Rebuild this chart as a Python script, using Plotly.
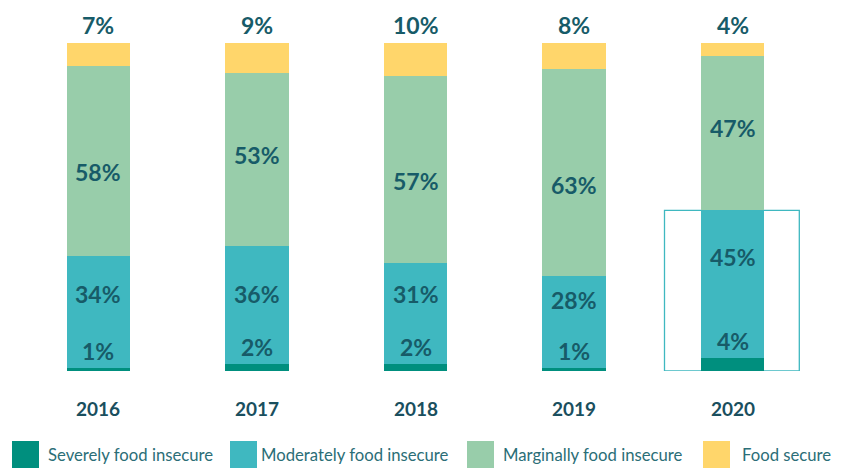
import plotly.graph_objects as go

years = ["2016", "2017", "2018", "2019", "2020"]
severe = [1, 2, 2, 1, 4]
moderate = [34, 36, 31, 28, 45]
marginal = [58, 53, 57, 63, 47]
secure = [7, 9, 10, 8, 4]

series_names = ["Severely food insecure", "Moderately food insecure",
                "Marginally food insecure", "Food secure"]
colors = ["#008F7E", "#3FB8C0", "#98CDAA", "#FFD66B"]

# label placement (style only, in axis units)
moderate_label_y = [23.5, 23.5, 23.5, 21.6, 34.8]
marginal_label_y = [60.7, 65.9, 57.9, 56.7, 74.1]

label_color = "#175B68"
label_font = dict(family="Lato, 'Open Sans', sans-serif", size=23, color=label_color)

fig = go.Figure()
for name, vals, col in zip(series_names, [severe, moderate, marginal, secure], colors):
    fig.add_trace(go.Bar(x=years, y=vals, name=name, marker=dict(color=col, line=dict(width=0)),
                         width=0.4, showlegend=False, hoverinfo="skip"))

ann = []
for i, yr in enumerate(years):
    common = dict(xref="x", yref="y", x=i, showarrow=False, yanchor="middle", xanchor="center")
    ann.append(dict(common, y=severe[i], yshift=17, text=f"<b>{severe[i]}%</b>", font=label_font))
    ann.append(dict(common, y=moderate_label_y[i], text=f"<b>{moderate[i]}%</b>", font=label_font))
    ann.append(dict(common, y=marginal_label_y[i], text=f"<b>{marginal[i]}%</b>", font=label_font))
    total = severe[i] + moderate[i] + marginal[i] + secure[i]
    ann.append(dict(common, y=total, yshift=18, text=f"<b>{secure[i]}%</b>", font=label_font))
    ann.append(dict(common, y=0, yshift=-37, text=f"<b>{yr}</b>",
                    font=dict(family="Lato, 'Open Sans', sans-serif", size=19, color="#1A4F5E")))

shapes = [dict(type="rect", xref="x", yref="y", x0=3.57, x1=4.42, y0=0,
               y1=severe[4] + moderate[4], line=dict(color="#3FB8C0", width=1.3),
               fillcolor="rgba(0,0,0,0)", layer="below")]

# custom legend (pixel layout)
swatch_px = [12, 230, 467, 703]
text_px = [47, 260, 502, 741]
PL, PW, PB, PH = 19, 793, 371, 328  # plot left, plot width, plot bottom, plot height
for name, col, sx, tx in zip(series_names, colors, swatch_px, text_px):
    shapes.append(dict(type="rect", xref="paper", yref="paper",
                       x0=(sx - PL) / PW, x1=(sx + 27 - PL) / PW,
                       y0=(PB - 468) / PH, y1=(PB - 441) / PH,
                       fillcolor=col, line=dict(width=0)))
    ann.append(dict(xref="paper", yref="paper", x=(tx - PL) / PW, y=(PB - 455) / PH,
                    xanchor="left", yanchor="middle", text=name, showarrow=False,
                    xshift=-1,
                    font=dict(family="Lato, 'Open Sans', sans-serif", size=16.7, color="#2B6E77")))

fig.update_layout(
    barmode="stack",
    width=843, height=468,
    margin=dict(l=19, r=31, t=43, b=97),
    plot_bgcolor="white", paper_bgcolor="white",
    xaxis=dict(showticklabels=False, showgrid=False, zeroline=False, showline=False,
               ticks="", range=[-0.5, 4.5], fixedrange=True),
    yaxis=dict(showticklabels=False, showgrid=False, zeroline=False, showline=False,
               ticks="", range=[0, 100], fixedrange=True),
    annotations=ann, shapes=shapes,
)

fig.write_html("out.html", config={"displayModeBar": False},
               post_script="document.body.style.margin='0';")
